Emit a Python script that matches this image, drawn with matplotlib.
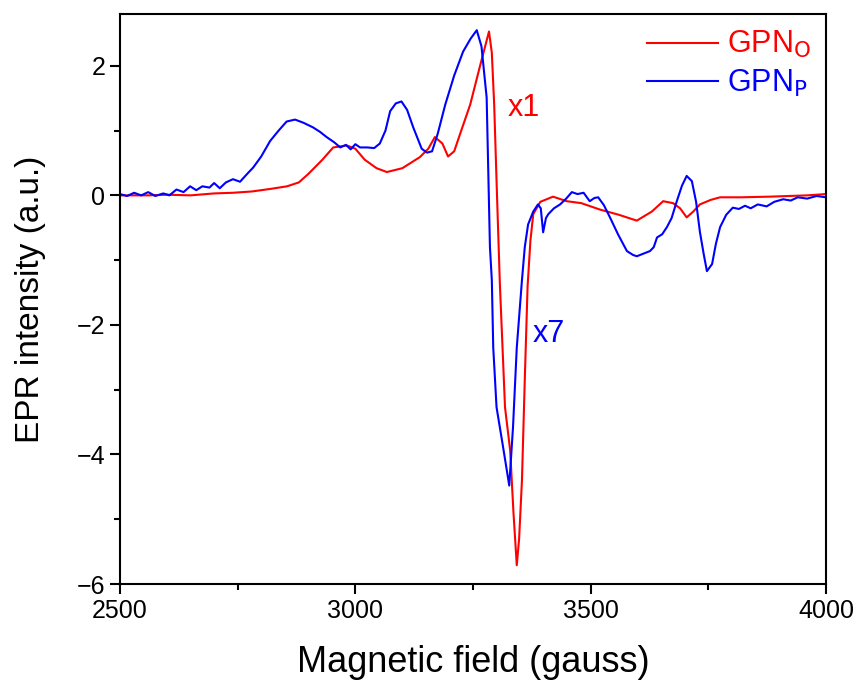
import numpy as np
import matplotlib.pyplot as plt
from matplotlib.ticker import MultipleLocator

plt.rcParams['font.family'] = ['Liberation Sans', 'DejaVu Sans']

# GPN_O (x1)
field_o = [2500, 2560, 2600, 2650, 2700, 2740, 2780, 2820, 2855, 2880, 2900, 2930, 2953,
           2982, 3000, 3020, 3045, 3067, 3100, 3137, 3155, 3169, 3185, 3197, 3210,
           3225, 3244, 3265, 3284, 3290, 3295, 3301, 3307, 3318, 3329, 3336,
           3343, 3348, 3354, 3360, 3366, 3372, 3378, 3393, 3420, 3449, 3480, 3520,
           3560, 3598, 3630, 3654, 3675, 3690, 3704, 3718, 3732, 3755, 3775, 3820,
           3880, 3920, 3960, 4000]
epr_o = [0.0, 0.0, 0.01, 0.0, 0.03, 0.04, 0.06, 0.1, 0.14, 0.2, 0.33, 0.55, 0.74,
         0.77, 0.72, 0.55, 0.42, 0.36, 0.42, 0.59, 0.72, 0.9, 0.8, 0.6, 0.68,
         1.0, 1.4, 2.0, 2.53, 2.2, 1.4, 0.0, -1.35, -3.27, -3.94, -4.9,
         -5.71, -5.3, -4.4, -2.85, -1.4, -0.7, -0.29, -0.1, -0.02, -0.09, -0.12, -0.22,
         -0.3, -0.39, -0.25, -0.09, -0.12, -0.2, -0.34, -0.25, -0.14, -0.07, -0.03, -0.03,
         -0.02, -0.01, 0.0, 0.02]

# GPN_P (x7)
field_p = [2500, 2515, 2530, 2545, 2560, 2575, 2592, 2605, 2620, 2635, 2649, 2662,
           2675, 2690, 2700, 2712, 2725, 2740, 2755, 2770, 2783, 2800, 2819, 2837,
           2854, 2872, 2890, 2910, 2925, 2939, 2955, 2968, 2980, 2990, 3000, 3010,
           3025, 3040, 3052, 3064, 3074, 3086, 3098, 3110, 3123, 3141, 3152, 3163,
           3175, 3191, 3210, 3229, 3245, 3258, 3268, 3279, 3286, 3290, 3293, 3300,
           3314, 3327, 3335, 3343, 3354, 3360, 3367, 3378, 3388, 3394, 3399, 3405,
           3410, 3422, 3435, 3448, 3460, 3472, 3485, 3498, 3508, 3516, 3528, 3541,
           3558, 3577, 3590, 3598, 3612, 3626, 3634, 3641, 3652, 3662, 3672, 3683,
           3694, 3704, 3715, 3724, 3732, 3740, 3747, 3758, 3766, 3775, 3788, 3802,
           3815, 3828, 3840, 3855, 3874, 3890, 3909, 3925, 3940, 3960, 3980, 4000]
epr_p = [0.02, -0.01, 0.04, 0.0, 0.05, -0.01, 0.03, 0.0, 0.09, 0.05, 0.14, 0.08,
         0.14, 0.12, 0.19, 0.11, 0.2, 0.25, 0.21, 0.33, 0.43, 0.6, 0.84, 1.0,
         1.14, 1.17, 1.12, 1.05, 0.98, 0.9, 0.82, 0.74, 0.78, 0.71, 0.79, 0.74,
         0.74, 0.73, 0.8, 1.0, 1.3, 1.42, 1.45, 1.32, 1.05, 0.72, 0.66, 0.68,
         0.95, 1.4, 1.85, 2.22, 2.42, 2.55, 2.3, 1.51, -0.8, -1.31, -2.35, -3.27,
         -3.89, -4.48, -3.58, -2.35, -1.31, -0.8, -0.45, -0.25, -0.14, -0.2, -0.57, -0.35,
         -0.29, -0.2, -0.14, -0.05, 0.05, 0.02, 0.04, -0.09, -0.04, -0.03, -0.15, -0.34,
         -0.6, -0.86, -0.92, -0.94, -0.9, -0.86, -0.8, -0.65, -0.6, -0.49, -0.35, -0.09,
         0.15, 0.3, 0.22, -0.1, -0.56, -0.9, -1.17, -1.06, -0.75, -0.49, -0.3, -0.19,
         -0.21, -0.16, -0.2, -0.14, -0.17, -0.1, -0.06, -0.08, -0.03, -0.05, -0.01, -0.03]

fig = plt.figure(figsize=(8.62, 6.82), dpi=100)
ax = fig.add_axes([120/862, 1 - 584/682, 706/862, 570/682])

ax.plot(field_o, epr_o, color='red', lw=1.5, label='GPN$_\\mathrm{O}$')
ax.plot(field_p, epr_p, color='blue', lw=1.5, label='GPN$_\\mathrm{P}$')

ax.set_xlim(2500, 4000)
ax.set_ylim(-6, 2.8)
ax.xaxis.set_major_locator(MultipleLocator(500))
ax.xaxis.set_minor_locator(MultipleLocator(250))
ax.yaxis.set_major_locator(MultipleLocator(2))
ax.yaxis.set_minor_locator(MultipleLocator(1))
ax.tick_params(which='major', length=7, width=1.5, labelsize=18, direction='out')
ax.tick_params(which='minor', length=4, width=1.5, direction='out')
for s in ax.spines.values():
    s.set_linewidth(1.5)

ax.set_xlabel('Magnetic field (gauss)', fontsize=26, labelpad=16)
ax.set_ylabel('EPR intensity (a.u.)', fontsize=24, labelpad=22)

ax.text(3324, 1.23, 'x1', color='red', fontsize=22)
ax.text(3377, -2.27, 'x7', color='blue', fontsize=22)

leg = ax.legend(loc='upper right', frameon=False, fontsize=22, handlelength=2.3,
                borderaxespad=0.1, labelspacing=0.25, handletextpad=0.3)
for t, c in zip(leg.get_texts(), ['red', 'blue']):
    t.set_color(c)

fig.savefig('out.png', dpi=100)
